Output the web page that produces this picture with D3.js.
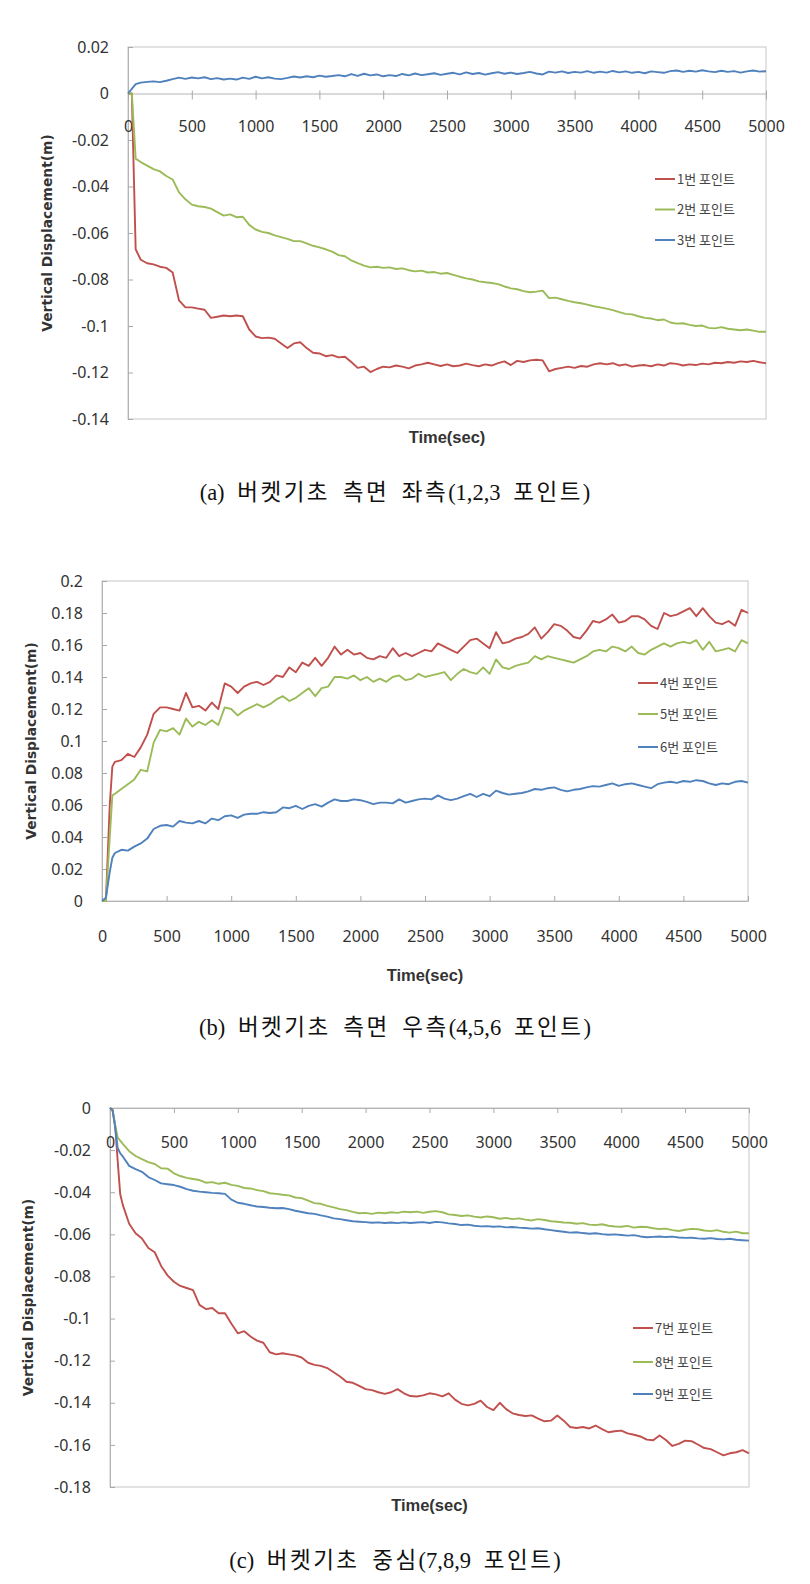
<!DOCTYPE html>
<html>
<head>
<meta charset="utf-8">
<script src="https://cdn.jsdelivr.net/npm/d3@7"></script>
<style>
  body { margin: 0; background: #fff; }
  .tick text { font-family: "Noto Sans", "Open Sans", sans-serif; font-size: 16px; fill: #333; }
</style>
</head>
<body>
<svg id="fig" width="810" height="1584"></svg>
<script>
// sample times (sec) after the initial jump, shared by every chart
const sampleTimes = [
  100,150,200,250,300,350,400,450,500,550,
  600,650,700,750,800,850,900,950,1000,1050,
  1100,1150,1200,1250,1300,1350,1400,1450,1500,1550,
  1600,1650,1700,1750,1800,1850,1900,1950,2000,2050,
  2100,2150,2200,2250,2300,2350,2400,2450,2500,2550,
  2600,2650,2700,2750,2800,2850,2900,2950,3000,3050,
  3100,3150,3200,3250,3300,3350,3400,3450,3500,3550,
  3600,3650,3700,3750,3800,3850,3900,3950,4000,4050,
  4100,4150,4200,4250,4300,4350,4400,4450,4500,4550,
  4600,4650,4700,4750,4800,4850,4900,4950,5000
];
const xTicks = [0,500,1000,1500,2000,2500,3000,3500,4000,4500,5000];

// ---- (a) left side, points 1,2,3 (displacement in mm) ----
const timesA = [0,30,60].concat(sampleTimes);
const point1 = [0,0,-67,
  -71.5,-73.0,-73.5,-74.5,-75.0,-77.0,-89.0,-92.0,-92.0,-92.5,
  -93.0,-96.5,-96.0,-95.5,-95.8,-95.5,-95.8,-101.5,-104.5,-105.2,
  -105.0,-105.5,-107.5,-109.5,-107.5,-107.0,-109.5,-111.5,-111.8,-113.0,
  -112.5,-113.5,-113.2,-115.5,-118.0,-117.5,-119.8,-118.5,-117.5,-117.8,
  -117.0,-117.5,-118.2,-117.0,-116.5,-115.8,-116.5,-117.2,-116.5,-117.3,
  -117.0,-116.2,-116.8,-117.3,-116.5,-117.0,-116.0,-115.2,-116.8,-115.0,
  -115.5,-114.8,-114.5,-114.8,-119.5,-118.5,-118.0,-117.5,-118.0,-117.2,
  -117.5,-116.5,-116.0,-116.5,-116.0,-117.0,-116.5,-117.5,-117.0,-116.8,
  -117.3,-116.5,-117.0,-116.0,-116.3,-117.0,-116.5,-116.8,-116.2,-116.5,
  -115.8,-116.0,-115.5,-115.8,-115.2,-115.5,-115.0,-115.6,-116.0];
const point2 = [0,0,-28,
  -29.5,-31.0,-32.5,-33.5,-35.5,-37.0,-42.5,-45.5,-47.8,-48.5,
  -48.8,-49.5,-51.0,-52.5,-52.0,-53.2,-53.0,-56.5,-58.5,-59.5,
  -60.0,-61.0,-61.8,-62.5,-63.5,-63.5,-64.5,-65.5,-66.2,-67.0,
  -68.0,-69.5,-70.0,-71.8,-73.0,-74.0,-74.8,-74.5,-75.0,-74.8,
  -75.5,-75.2,-76.0,-76.5,-76.2,-77.0,-76.8,-77.5,-77.2,-78.0,
  -78.8,-79.5,-80.0,-80.8,-81.2,-81.5,-82.0,-83.0,-83.8,-84.2,
  -85.0,-85.5,-85.2,-84.8,-88.0,-87.8,-88.5,-89.2,-89.8,-90.2,
  -90.8,-91.5,-92.0,-92.5,-93.2,-94.0,-94.8,-95.0,-95.8,-96.5,
  -96.8,-97.5,-97.2,-98.5,-99.0,-98.8,-99.5,-100.0,-99.8,-100.8,
  -101.0,-100.5,-101.2,-101.5,-101.8,-101.5,-102.0,-102.5,-102.5];
const point3 = [0,2.0,4.0,
  4.7,5.0,5.2,4.9,5.5,6.2,6.8,6.3,6.9,6.5,
  7.0,6.2,6.6,6.0,6.4,6.0,6.8,6.3,7.2,6.5,
  7.0,6.4,6.2,6.7,7.3,6.9,7.4,7.0,7.7,7.2,
  7.5,7.9,7.4,8.3,7.6,8.5,7.8,8.2,7.4,7.9,
  7.5,8.4,7.8,8.6,7.9,8.3,8.7,8.0,8.5,8.9,
  8.2,9.1,8.4,8.8,8.1,8.7,9.2,8.5,9.0,8.4,
  8.8,9.3,8.6,8.2,9.4,9.0,9.5,8.8,9.3,9.0,
  9.6,8.9,9.4,9.0,9.7,9.1,9.5,8.9,9.3,8.7,
  9.5,9.2,8.9,9.6,9.9,9.3,9.8,9.4,10.0,9.5,
  9.2,9.8,9.3,9.6,9.0,9.5,9.9,9.4,9.6];
const yTicksA = [0.02,0,-0.02,-0.04,-0.06,-0.08,-0.1,-0.12,-0.14];

// ---- (b) right side, points 4,5,6 (mm) ----
const timesB = [0,30,60,80].concat(sampleTimes);
const point4 = [0,0,60,84,
  87,88,92,90,96,104,117,121,121,120,
  119,130,121,122,119,124,120,136,134,130,
  134,136,137,135,137,141,140,146,143,149,
  147,152,147,152,159,154,157,154,155,152,
  151,153,152,158,153,155,153,155,157,156,
  161,159,157,155,159,163,164,161,158,168,
  161,162,164,165,167,171,164,168,173,172,
  169,165,164,169,175,174,176,179,174,175,
  178,178,176,172,170,180,178,179,181,183,
  178,183,178,174,173,175,172,182,180];
const point5 = [0,0,40,66,
  67,70,73,76,82,81,99,107,106,108,
  104,114,109,112,110,113,110,121,120,116,
  119,121,123,121,123,126,128,125,127,130,
  133,128,133,134,140,140,139,141,138,140,
  137,139,137,140,141,138,139,142,140,141,
  142,143,138,142,145,143,142,146,142,151,
  146,145,147,148,149,153,151,153,152,151,
  150,149,151,153,156,157,156,159,158,156,
  159,155,154,157,159,161,159,161,162,161,
  163,157,162,156,157,158,156,163,161];
const point6 = [0,2,18,27,
  30,32,31.5,34,36,39,45,47,47.5,46.5,
  50,49,48.5,50,48.5,51.5,50.5,53,53.5,52,
  54,54.5,54.5,55.5,55,55.5,58.5,58,59.5,57.5,
  59.5,60.5,59,61.5,63.5,62.5,62.5,63.5,63,62,
  60.5,61.5,61.5,61,63.5,61.5,62.5,63.5,64,63.5,
  66,64,63,64,65.5,67,65,67,65.5,69,
  67.5,66.5,67,67.5,68.5,70,69.5,70.5,71,69.5,
  68.5,69.5,70,71,71.8,71.5,72.5,73.5,72,73,
  73.5,72.5,71.5,70.5,73,74,74.5,73.8,75,74.5,
  75.5,75,73.5,72.5,73.5,73,74.5,75,74];
const yTicksB = [0.2,0.18,0.16,0.14,0.12,0.1,0.08,0.06,0.04,0.02,0];

// ---- (c) centre, points 7,8,9 (mm) ----
const timesC = [0,20,40,60,80].concat(sampleTimes);
const point7 = [0,-1,-8,-25,-41,
  -46,-55,-59.5,-62,-66.5,-68.5,-75,-79.5,-82.5,-84.5,
  -85.5,-86.5,-93.5,-95.5,-95,-97.5,-97.5,-102.5,-107,-106,
  -108.5,-110.5,-111.5,-116,-117,-116.5,-117,-117.5,-118.5,-121,
  -122,-122.5,-123.5,-125.5,-127.5,-130,-130.5,-132,-133.5,-134,
  -135,-135.8,-135,-133.5,-135.5,-136.8,-137,-136.5,-135.5,-136,
  -137,-135.5,-138.5,-140.5,-141.2,-140.5,-139,-142,-143.5,-140,
  -143,-145,-145.8,-146.3,-146,-147.5,-148.8,-148.5,-146,-148.5,
  -151.5,-152,-151.5,-152.2,-150.8,-152.5,-154,-153.5,-153.2,-154.5,
  -155.2,-156,-157.5,-157.8,-155.5,-157.7,-160.5,-159.5,-158,-158.2,
  -159.8,-161.5,-162,-163.5,-165,-164,-163.5,-162.5,-164];
const point8 = [0,-1,-8,-14,-15.5,
  -17,-20.5,-22.8,-24.3,-25.7,-26.6,-28.6,-28.8,-31,-32.3,
  -33.2,-33.7,-34.2,-35.5,-35.2,-36,-35.5,-36.5,-37,-38,
  -38.2,-39,-39.5,-40.5,-40.8,-41.2,-41.5,-42.5,-42.8,-44,
  -45.2,-45.5,-46.5,-47.2,-48,-48.5,-49.3,-50,-49.8,-50.3,
  -49.7,-50,-49.5,-49.8,-49.2,-49.5,-49.2,-49.8,-49.3,-49,
  -49.5,-50.5,-50.8,-51.3,-51,-51.6,-52,-51.5,-51.9,-52.6,
  -52.2,-52.8,-52.4,-53,-53.4,-52.8,-53.2,-53.8,-54,-54.4,
  -54.5,-55,-54.7,-55.4,-55.6,-55.2,-55.9,-56.3,-56.4,-56,
  -56.8,-56.4,-56.5,-57.1,-57.5,-57.3,-58,-58.4,-57.8,-57.4,
  -57.6,-58.2,-58.5,-58,-58.8,-59.2,-58.7,-59.5,-59.5];
const point9 = [0,-1,-9,-19,-21.5,
  -23,-27.5,-29,-30.3,-32.8,-34.2,-35.8,-36.2,-36.6,-37.4,
  -38.5,-39.3,-39.7,-40,-40.3,-40.5,-40.8,-43.5,-45,-45.5,
  -46.2,-46.8,-47,-47.4,-47.6,-47.5,-48,-48.8,-49.4,-50,
  -50.3,-51,-51.6,-52.4,-52.8,-53.3,-53.8,-54,-54.2,-54.5,
  -54.3,-54.6,-54.4,-54.7,-54.3,-54.6,-54.4,-54.2,-54.6,-54.1,
  -54.3,-54.8,-55.1,-55.6,-55.4,-55.9,-56.2,-56.1,-56.4,-56.2,
  -56.7,-56.5,-56.8,-57,-57.3,-57.1,-57.6,-58,-58.4,-58.8,
  -59.2,-59,-59.4,-59.7,-59.5,-59.9,-60.2,-60,-60.3,-60.6,
  -60.4,-61,-61.4,-61.2,-61,-61.3,-61.1,-61.5,-61.7,-61.6,
  -61.9,-62.1,-61.8,-62.2,-62.4,-62.1,-62.6,-62.8,-63];
const yTicksC = [0,-0.02,-0.04,-0.06,-0.08,-0.1,-0.12,-0.14,-0.16,-0.18];

const seriesColors = ["#c0504d", "#9bbb59", "#4f81bd"];
const captions = [
  "(a) 버켓기초 측면 좌측(1,2,3 포인트)",
  "(b) 버켓기초 측면 우측(4,5,6 포인트)",
  "(c) 버켓기초 중심(7,8,9 포인트)"
];

const svg = d3.select("#fig");

function drawChart(c) {
  const x = d3.scaleLinear().domain([0, 5000]).range([c.left, c.right]);
  const y = d3.scaleLinear().domain([d3.min(c.yTicks), d3.max(c.yTicks)]).range([c.bottom, c.top]);
  const g = svg.append("g");

  // plot frame
  g.append("rect")
    .attr("x", c.left).attr("y", c.top)
    .attr("width", c.right - c.left).attr("height", c.bottom - c.top)
    .attr("fill", "none").attr("stroke", "#c6c6c6");

  // y axis, ticks pointing inward
  const ya = g.append("g").attr("transform", `translate(${c.left},0)`)
    .call(d3.axisLeft(y).tickValues(c.yTicks).tickFormat(d => String(d))
      .tickSizeInner(-5).tickSizeOuter(0).tickPadding(19));

  // x axis sits on the zero line
  const xa = g.append("g").attr("transform", `translate(0,${y(0)})`)
    .call(d3.axisBottom(x).tickValues(xTicks).tickFormat(d => String(d))
      .tickSizeInner(c.tickDir * 5).tickSizeOuter(0));
  xa.selectAll(".tick text").attr("y", c.labelOffset).attr("dy", "0.35em");
  if (c.tickCross) xa.selectAll(".tick line").attr("y1", -3).attr("y2", 6);

  [ya, xa].forEach(a => {
    a.select(".domain").attr("stroke", "#b4b4b4");
    a.selectAll(".tick line").attr("stroke", "#a8a8a8");
  });

  // series
  const line = d3.line()
    .x((d, i) => x(c.times[i]))
    .y(d => y(d / 1000));
  c.series.forEach((s, k) => {
    g.append("path").datum(s)
      .attr("fill", "none")
      .attr("stroke", seriesColors[k])
      .attr("stroke-width", 1.9)
      .attr("stroke-linejoin", "round")
      .attr("d", line);
  });

  // legend
  c.names.forEach((n, k) => {
    const ly = c.legendY[k];
    g.append("line")
      .attr("x1", c.legendX).attr("x2", c.legendX + 20)
      .attr("y1", ly).attr("y2", ly)
      .attr("stroke", seriesColors[k]).attr("stroke-width", 2);
    g.append("text")
      .attr("x", c.legendX + 22).attr("y", ly).attr("dy", "0.35em")
      .attr("font-family", "'Noto Sans CJK KR', sans-serif")
      .attr("font-size", 13).attr("fill", "#444")
      .text(n);
  });

  // axis titles
  g.append("text")
    .attr("transform", `translate(${c.yTitleX},${(c.top + c.bottom) / 2}) rotate(-90)`)
    .attr("text-anchor", "middle").attr("dy", "0.35em")
    .attr("font-family", "'DejaVu Sans', sans-serif").attr("font-weight", "bold")
    .attr("font-size", 13.8).attr("fill", "#333")
    .text("Vertical  Displacement(m)");
  g.append("text")
    .attr("x", (c.left + c.right) / 2).attr("y", c.timeY).attr("dy", "0.35em")
    .attr("text-anchor", "middle")
    .attr("font-family", "'Liberation Sans', Arial, sans-serif").attr("font-weight", "bold")
    .attr("font-size", 16.5).attr("fill", "#333")
    .text("Time(sec)");

  // caption: Hangul runs get wider spacing like the printed serif font
  const cap = svg.append("text")
    .attr("x", 395).attr("y", c.captionY).attr("dy", "0.35em")
    .attr("text-anchor", "middle")
    .attr("font-family", "'Liberation Serif', 'Noto Sans CJK KR', serif")
    .attr("font-size", 22.5).attr("word-spacing", 7).attr("fill", "#111");
  c.caption.split(/([가-힣]+)/).filter(s => s.length).forEach(part => {
    cap.append("tspan")
      .attr("letter-spacing", /[가-힣]/.test(part) ? 2.5 : 0)
      .text(part);
  });
}

drawChart({
  left: 128, right: 766, top: 47, bottom: 419,
  times: timesA, series: [point1, point2, point3], yTicks: yTicksA,
  names: ["1번 포인트", "2번 포인트", "3번 포인트"],
  tickDir: 1, tickCross: true, labelOffset: 33,
  legendX: 655, legendY: [179, 209.5, 240],
  yTitleX: 47, timeY: 437, captionY: 492, caption: captions[0]
});
drawChart({
  left: 102, right: 748, top: 581, bottom: 901,
  times: timesB, series: [point4, point5, point6], yTicks: yTicksB,
  names: ["4번 포인트", "5번 포인트", "6번 포인트"],
  tickDir: -1, tickCross: false, labelOffset: 35,
  legendX: 638, legendY: [683, 714, 747],
  yTitleX: 31, timeY: 975, captionY: 1027, caption: captions[1]
});
drawChart({
  left: 110, right: 749, top: 1108, bottom: 1487,
  times: timesC, series: [point7, point8, point9], yTicks: yTicksC,
  names: ["7번 포인트", "8번 포인트", "9번 포인트"],
  tickDir: 1, tickCross: false, labelOffset: 34,
  legendX: 633, legendY: [1328, 1362, 1394],
  yTitleX: 28, timeY: 1505, captionY: 1560, caption: captions[2]
});
</script>
</body>
</html>
